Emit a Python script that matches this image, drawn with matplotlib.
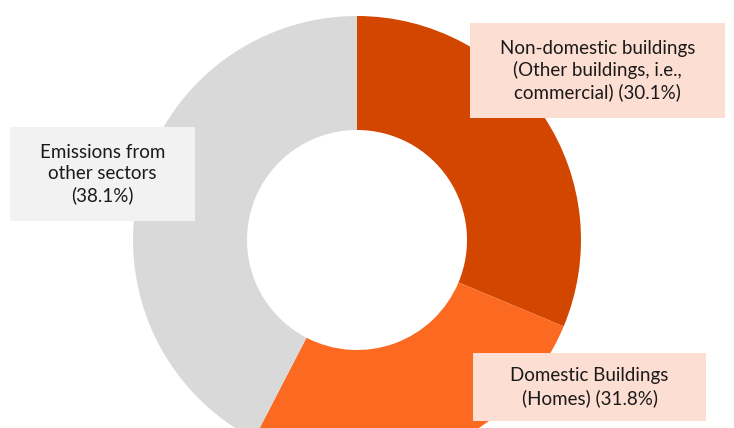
import matplotlib
matplotlib.use("Agg")
import matplotlib.pyplot as plt
from matplotlib.patches import Rectangle

# Slice sizes as drawn in the reference (clockwise from 12 o'clock)
sectors = ["Non-domestic buildings", "Domestic Buildings", "Emissions from other sectors"]
shares_drawn = [31.3, 26.3, 42.4]
colors = ["#D24600", "#FC6A22", "#D9D9D9"]

# Label texts (percentages as printed on the chart)
label_texts = [
    "Non-domestic buildings\n(Other buildings, i.e.,\ncommercial) (30.1%)",
    "Domestic Buildings\n(Homes) (31.8%)",
    "Emissions from\nother sectors\n(38.1%)",
]
box_colors = ["#FDDED2", "#FDDED2", "#F2F2F2"]

W, H = 734, 428
fig = plt.figure(figsize=(W / 100, H / 100), dpi=100)
ax = fig.add_axes([0, 0, 1, 1])

# pixel-like data coords, y measured upward
cx, cy = 357, H - 240
ax.pie(shares_drawn, colors=colors, startangle=90, counterclock=False,
       radius=224, center=(cx, cy),
       wedgeprops=dict(width=114, linewidth=0))

ax.set_xlim(0, W)
ax.set_ylim(0, H)
ax.set_aspect("equal")
ax.axis("off")

# label boxes: (left, top, right, bottom) in pixels
boxes = [(470, 23, 725, 118), (473, 353, 706, 421), (10, 127, 195, 221)]
for (l, t, r, b), txt, bc in zip(boxes, label_texts, box_colors):
    ax.add_patch(Rectangle((l, H - b), r - l, b - t, facecolor=bc,
                           edgecolor="none", zorder=3))
    ax.text((l + r) / 2, H - (t + b) / 2, txt, ha="center", va="center",
            fontsize=13.5, family="Lato", color="#1a1a1a",
            linespacing=1.3, zorder=4)

fig.savefig("out.png", dpi=100)
